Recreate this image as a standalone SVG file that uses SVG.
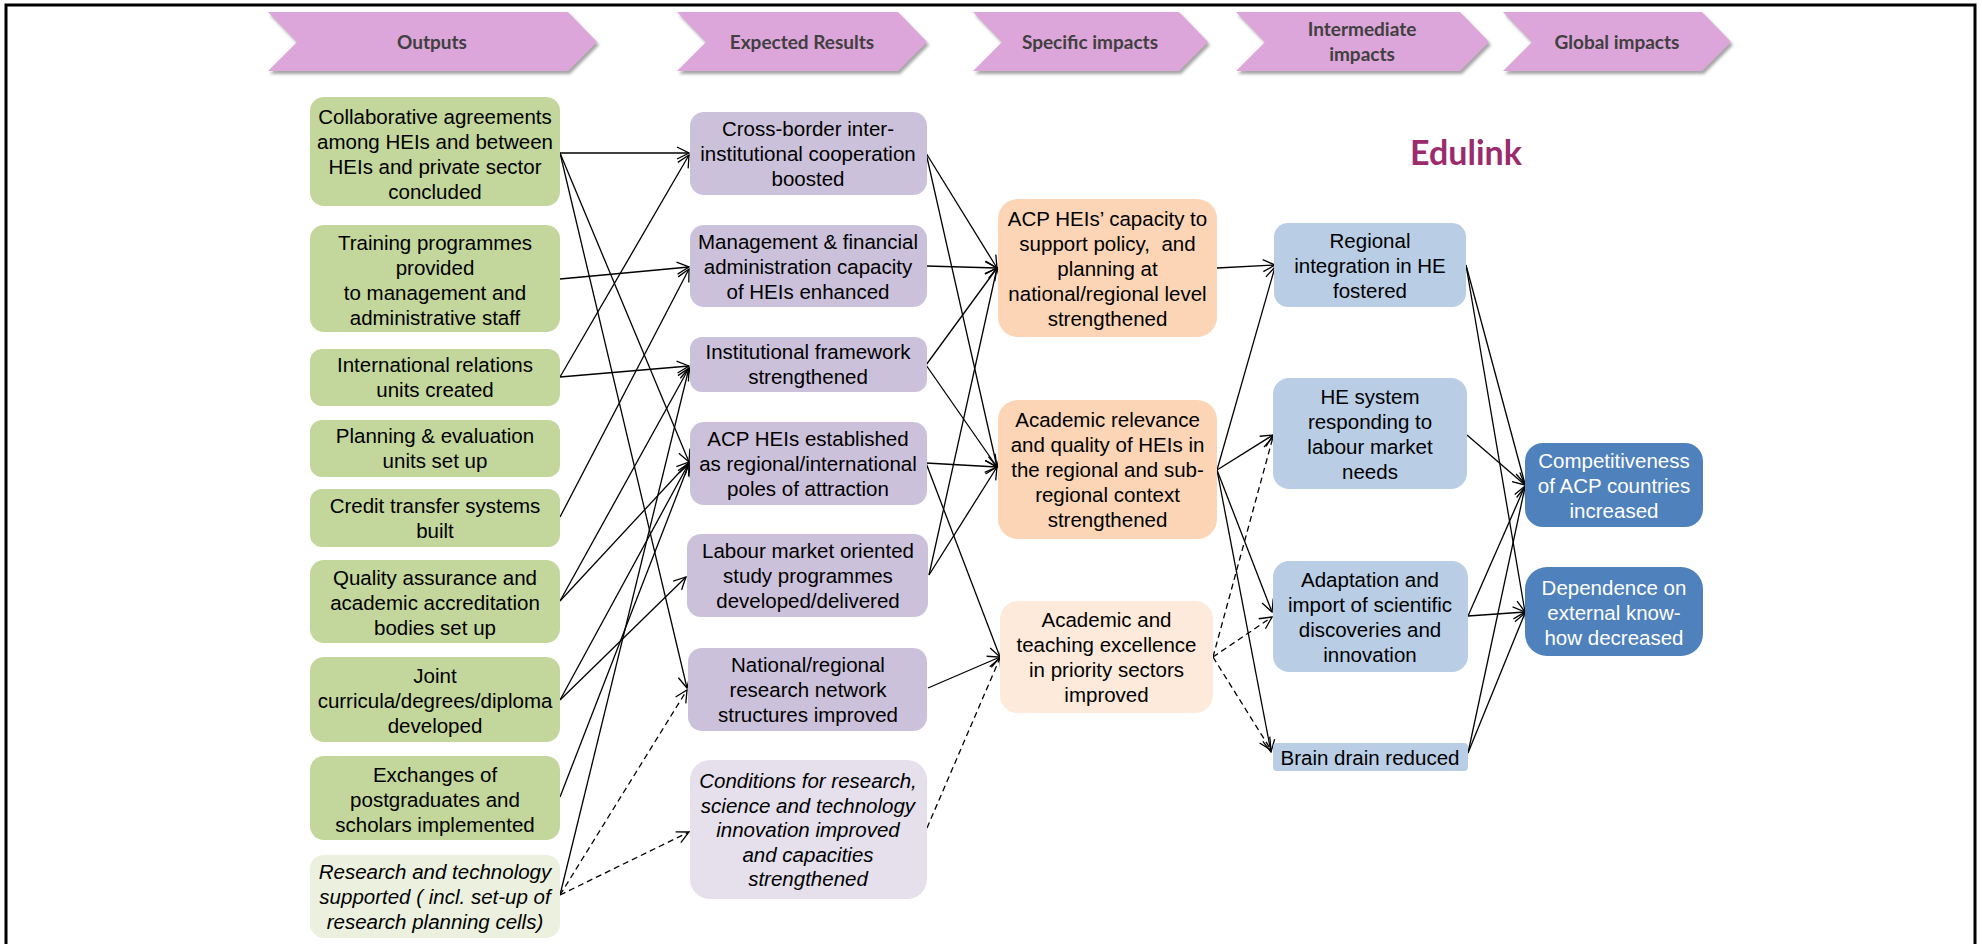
<svg xmlns="http://www.w3.org/2000/svg" width="1982" height="944" viewBox="0 0 1982 944">
<defs>
<filter id="sh" x="-10%" y="-20%" width="130%" height="160%">
<feDropShadow dx="2" dy="3" stdDeviation="1.5" flood-color="#7f7f7f" flood-opacity="0.7"/>
</filter>
<marker id="arr" viewBox="0 0 14 14" refX="13" refY="7" markerWidth="14" markerHeight="14" markerUnits="userSpaceOnUse" orient="auto">
<path d="M1,1 L13,7 L1,13" fill="none" stroke="#000" stroke-width="1.3"/>
</marker>
</defs>
<style>
.chev{fill:#DDA6DA;filter:url(#sh)}
.ht{font-family:Lato,"Open Sans",sans-serif;font-weight:700;font-size:19px;fill:#404040;text-anchor:middle}
.t{font-family:"Liberation Sans",Arial,sans-serif;font-size:20.5px;fill:#000;text-anchor:middle}
.it{font-style:italic}
.w{fill:#fff}
.g{fill:#C3D69B}
.gl{fill:#EBF1DE}
.p{fill:#CCC1DA}
.pl{fill:#E5E0EC}
.o{fill:#FBD5B5}
.ol{fill:#FDEADA}
.b{fill:#B9CDE5}
.db{fill:#4F81BD}
.c line{stroke:#000;stroke-width:1.3;marker-end:url(#arr)}
.c line.d{stroke-dasharray:6,4}
</style>
<rect x="6" y="5" width="1969" height="1000" fill="none" stroke="#000" stroke-width="3"/>

<g id="header">
<g id="h-outputs"><polygon class="chev" points="268,12 568,12 597,42 568,71 268,71 297,42"/><text class="ht" x="432" y="49">Outputs</text></g>
<g id="h-expected"><polygon class="chev" points="677,12 898,12 927,42 898,71 677,71 706,42"/><text class="ht" x="802" y="49">Expected Results</text></g>
<g id="h-specific"><polygon class="chev" points="973,12 1179,12 1208,42 1179,71 973,71 1002,42"/><text class="ht" x="1090" y="49">Specific impacts</text></g>
<g id="h-intermediate"><polygon class="chev" points="1236,12 1460,12 1489,42 1460,71 1236,71 1265,42"/><text class="ht" x="1362" y="36">Intermediate<tspan x="1362" y="61">impacts</tspan></text></g>
<g id="h-global"><polygon class="chev" points="1503,12 1702,12 1731,42 1702,71 1503,71 1532,42"/><text class="ht" x="1617" y="49">Global impacts</text></g>
</g>

<text id="edulink" x="1466" y="165" font-family="Lato,'Open Sans',sans-serif" font-weight="700" font-size="34" fill="#9A2C6E" text-anchor="middle">Edulink</text>

<g id="connectors" class="c">
<!-- outputs to expected results -->
<line x1="560" y1="153" x2="689" y2="153"/>
<line x1="560" y1="153" x2="689" y2="462"/>
<line x1="560" y1="153" x2="687" y2="688"/>
<line x1="560" y1="279" x2="689" y2="267"/>
<line x1="560" y1="377" x2="689" y2="155"/>
<line x1="560" y1="377" x2="689" y2="366"/>
<line x1="560" y1="517" x2="689" y2="269"/>
<line x1="560" y1="601" x2="689" y2="368"/>
<line x1="560" y1="601" x2="689" y2="462"/>
<line x1="560" y1="700" x2="689" y2="463"/>
<line x1="560" y1="700" x2="686" y2="577"/>
<line x1="560" y1="797" x2="689" y2="464"/>
<line x1="560" y1="895" x2="689" y2="368"/>
<line class="d" x1="560" y1="895" x2="687" y2="690"/>
<line class="d" x1="560" y1="895" x2="689" y2="832"/>
<!-- expected results to specific impacts -->
<line x1="926" y1="153" x2="997" y2="268"/>
<line x1="926" y1="153" x2="997" y2="467"/>
<line x1="926" y1="266" x2="997" y2="268"/>
<line x1="926" y1="365" x2="997" y2="268"/>
<line x1="926" y1="365" x2="997" y2="467"/>
<line x1="926" y1="463" x2="997" y2="467"/>
<line x1="926" y1="463" x2="1000" y2="657"/>
<line x1="929" y1="575" x2="997" y2="268"/>
<line x1="929" y1="575" x2="997" y2="467"/>
<line x1="928" y1="688" x2="1000" y2="657"/>
<line class="d" x1="927" y1="828" x2="1000" y2="658"/>
<!-- specific to intermediate -->
<line x1="1217" y1="268" x2="1275" y2="265"/>
<line x1="1217" y1="470" x2="1275" y2="267"/>
<line x1="1217" y1="470" x2="1273" y2="435"/>
<line x1="1217" y1="470" x2="1272" y2="612"/>
<line x1="1217" y1="470" x2="1271" y2="752"/>
<line class="d" x1="1213" y1="657" x2="1273" y2="437"/>
<line class="d" x1="1213" y1="657" x2="1272" y2="617"/>
<line class="d" x1="1213" y1="657" x2="1271" y2="750"/>
<!-- intermediate to global -->
<line x1="1466" y1="265" x2="1525" y2="484"/>
<line x1="1466" y1="265" x2="1525" y2="612"/>
<line x1="1467" y1="435" x2="1525" y2="485"/>
<line x1="1468" y1="616" x2="1525" y2="486"/>
<line x1="1468" y1="616" x2="1525" y2="612"/>
<line x1="1468" y1="753" x2="1525" y2="487"/>
<line x1="1468" y1="753" x2="1525" y2="613"/>
</g>

<!-- Outputs -->
<g id="n-collab"><rect class="g" x="310" y="97" width="250" height="109" rx="14"/><text class="t" x="435" y="124">Collaborative agreements<tspan x="435" y="149">among HEIs and between</tspan><tspan x="435" y="174">HEIs and private sector</tspan><tspan x="435" y="199">concluded</tspan></text></g>
<g id="n-training"><rect class="g" x="310" y="225" width="250" height="107" rx="14"/><text class="t" x="435" y="250">Training programmes<tspan x="435" y="275">provided</tspan><tspan x="435" y="300">to management and</tspan><tspan x="435" y="325">administrative staff</tspan></text></g>
<g id="n-intl"><rect class="g" x="310" y="349" width="250" height="57" rx="12"/><text class="t" x="435" y="372">International relations<tspan x="435" y="397">units created</tspan></text></g>
<g id="n-planning"><rect class="g" x="310" y="420" width="250" height="57" rx="12"/><text class="t" x="435" y="443">Planning &amp; evaluation<tspan x="435" y="468">units set up</tspan></text></g>
<g id="n-credit"><rect class="g" x="310" y="489" width="250" height="58" rx="12"/><text class="t" x="435" y="513">Credit transfer systems<tspan x="435" y="538">built</tspan></text></g>
<g id="n-quality"><rect class="g" x="310" y="560" width="250" height="83" rx="14"/><text class="t" x="435" y="585">Quality assurance and<tspan x="435" y="610">academic accreditation</tspan><tspan x="435" y="635">bodies set up</tspan></text></g>
<g id="n-joint"><rect class="g" x="310" y="657" width="250" height="85" rx="14"/><text class="t" x="435" y="683">Joint<tspan x="435" y="708">curricula/degrees/diploma</tspan><tspan x="435" y="733">developed</tspan></text></g>
<g id="n-exchanges"><rect class="g" x="310" y="756" width="250" height="84" rx="14"/><text class="t" x="435" y="782">Exchanges of<tspan x="435" y="807">postgraduates and</tspan><tspan x="435" y="832">scholars implemented</tspan></text></g>
<g id="n-research"><rect class="gl" x="310" y="855" width="250" height="83" rx="14"/><text class="t it" x="435" y="879">Research and technology<tspan x="435" y="904">supported ( incl. set-up of</tspan><tspan x="435" y="929">research planning cells)</tspan></text></g>

<!-- Expected results -->
<g id="n-crossborder"><rect class="p" x="690" y="112" width="237" height="83" rx="14"/><text class="t" x="808" y="136">Cross-border inter-<tspan x="808" y="161">institutional cooperation</tspan><tspan x="808" y="186">boosted</tspan></text></g>
<g id="n-mgmt"><rect class="p" x="690" y="225" width="237" height="82" rx="14"/><text class="t" x="808" y="249">Management &amp; financial<tspan x="808" y="274">administration capacity</tspan><tspan x="808" y="299">of HEIs enhanced</tspan></text></g>
<g id="n-instfw"><rect class="p" x="690" y="337" width="237" height="55" rx="12"/><text class="t" x="808" y="359">Institutional framework<tspan x="808" y="384">strengthened</tspan></text></g>
<g id="n-acpest"><rect class="p" x="690" y="422" width="237" height="83" rx="14"/><text class="t" x="808" y="446">ACP HEIs established<tspan x="808" y="471">as regional/international</tspan><tspan x="808" y="496">poles of attraction</tspan></text></g>
<g id="n-labour"><rect class="p" x="687" y="534" width="241" height="83" rx="14"/><text class="t" x="808" y="558">Labour market oriented<tspan x="808" y="583">study programmes</tspan><tspan x="808" y="608">developed/delivered</tspan></text></g>
<g id="n-national"><rect class="p" x="688" y="648" width="239" height="83" rx="14"/><text class="t" x="808" y="672">National/regional<tspan x="808" y="697">research network</tspan><tspan x="808" y="722">structures improved</tspan></text></g>
<g id="n-conditions"><rect class="pl" x="690" y="760" width="237" height="139" rx="20"/><text class="t it" x="808" y="788">Conditions for research,<tspan x="808" y="812.5">science and technology</tspan><tspan x="808" y="837">innovation improved</tspan><tspan x="808" y="861.5">and capacities</tspan><tspan x="808" y="886">strengthened</tspan></text></g>

<!-- Specific impacts -->
<g id="n-acpcap"><rect class="o" x="998" y="199" width="219" height="138" rx="20"/><text class="t" x="1107.5" y="226" xml:space="preserve">ACP HEIs’ capacity to<tspan x="1107.5" y="251">support policy,  and</tspan><tspan x="1107.5" y="276">planning at</tspan><tspan x="1107.5" y="301">national/regional level</tspan><tspan x="1107.5" y="326">strengthened</tspan></text></g>
<g id="n-acadrel"><rect class="o" x="998" y="400" width="219" height="139" rx="20"/><text class="t" x="1107.5" y="427">Academic relevance<tspan x="1107.5" y="452">and quality of HEIs in</tspan><tspan x="1107.5" y="477">the regional and sub-</tspan><tspan x="1107.5" y="502">regional context</tspan><tspan x="1107.5" y="527">strengthened</tspan></text></g>
<g id="n-acadteach"><rect class="ol" x="1000" y="601" width="213" height="112" rx="18"/><text class="t" x="1106.5" y="627">Academic and<tspan x="1106.5" y="652">teaching excellence</tspan><tspan x="1106.5" y="677">in priority sectors</tspan><tspan x="1106.5" y="702">improved</tspan></text></g>

<!-- Intermediate impacts -->
<g id="n-regional"><rect class="b" x="1274" y="223" width="192" height="84" rx="14"/><text class="t" x="1370" y="248">Regional<tspan x="1370" y="273">integration in HE</tspan><tspan x="1370" y="298">fostered</tspan></text></g>
<g id="n-hesystem"><rect class="b" x="1273" y="378" width="194" height="111" rx="16"/><text class="t" x="1370" y="404">HE system<tspan x="1370" y="429">responding to</tspan><tspan x="1370" y="454">labour market</tspan><tspan x="1370" y="479">needs</tspan></text></g>
<g id="n-adaptation"><rect class="b" x="1273" y="561" width="195" height="111" rx="16"/><text class="t" x="1370" y="587">Adaptation and<tspan x="1370" y="612">import of scientific</tspan><tspan x="1370" y="637">discoveries and</tspan><tspan x="1370" y="662">innovation</tspan></text></g>
<g id="n-brain"><rect class="b" x="1273" y="743" width="195" height="28" rx="4"/><text class="t" x="1370" y="765">Brain drain reduced</text></g>

<!-- Global impacts -->
<g id="n-comp"><rect class="db" x="1525" y="443" width="178" height="84" rx="18"/><text class="t w" x="1614" y="468">Competitiveness<tspan x="1614" y="493">of ACP countries</tspan><tspan x="1614" y="518">increased</tspan></text></g>
<g id="n-dep"><rect class="db" x="1525" y="567" width="178" height="89" rx="22"/><text class="t w" x="1614" y="595">Dependence on<tspan x="1614" y="620">external know-</tspan><tspan x="1614" y="645">how decreased</tspan></text></g>
</svg>
